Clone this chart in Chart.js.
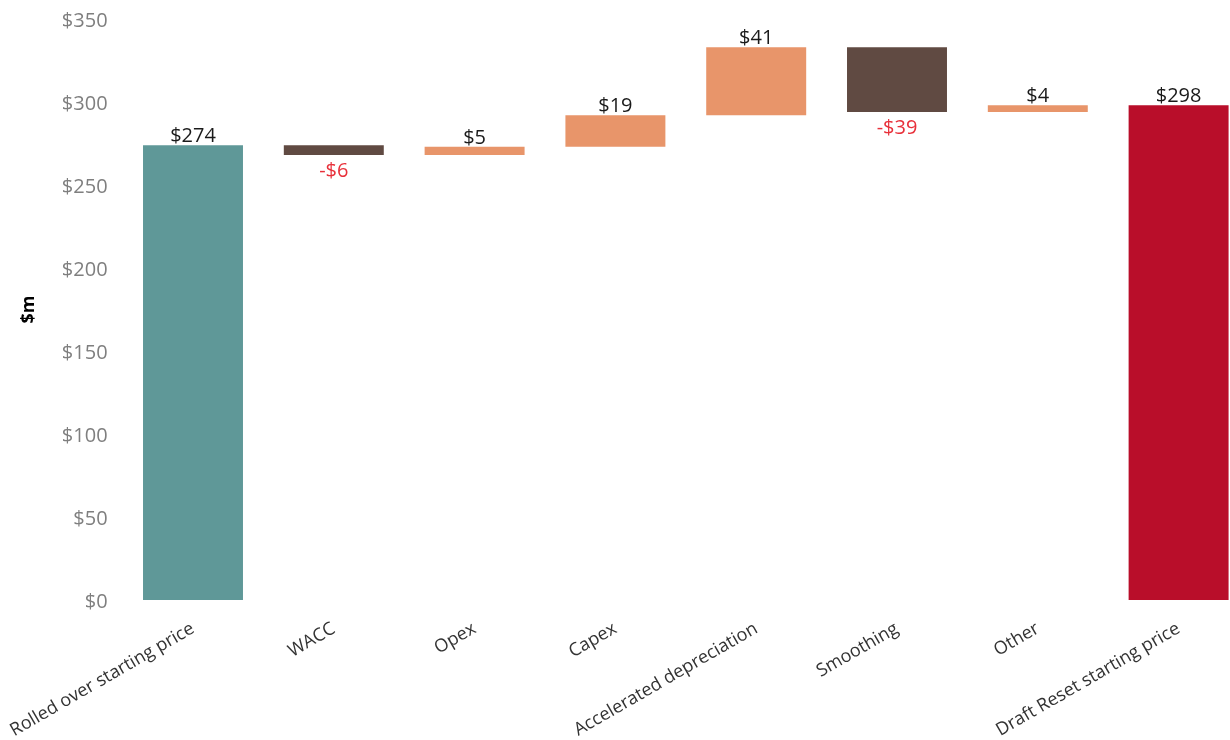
<!DOCTYPE html>
<html>
<head>
<meta charset="utf-8">
<script src="https://cdn.jsdelivr.net/npm/chart.js@4.4.1/dist/chart.umd.min.js"></script>
<style>
  html, body { margin: 0; padding: 0; background: #ffffff; overflow: hidden; }
  #wrap { width: 1249px; height: 740px; }
</style>
</head>
<body>
<div id="wrap"><canvas id="chart" width="1249" height="740"></canvas></div>
<script>
// Price bridge from the rolled-over starting price to the draft reset starting price ($m)
const categories = [
  'Rolled over starting price',
  'WACC',
  'Opex',
  'Capex',
  'Accelerated depreciation',
  'Smoothing',
  'Other',
  'Draft Reset starting price'
];
const startValue = 274;
const changes = [-6, 5, 19, 41, -39, 4];
const endValue = 298;
const yMin = 0;
const yMax = 350;
const yStep = 50;

// Colours
const startColor = '#5f9898';
const endColor = '#b90e2a';
const increaseColor = '#e8956a';
const decreaseColor = '#604a42';
const negativeLabelColor = '#e8303a';

// Floating ranges for each bar of the waterfall
const ranges = [[0, startValue]];
const labelValues = [startValue];
const colors = [startColor];
let running = startValue;
changes.forEach(c => {
  const next = running + c;
  ranges.push([Math.min(running, next), Math.max(running, next)]);
  labelValues.push(c);
  colors.push(c >= 0 ? increaseColor : decreaseColor);
  running = next;
});
ranges.push([0, endValue]);
labelValues.push(endValue);
colors.push(endColor);

const fontFamily = '"Open Sans", "Noto Sans", sans-serif';

// Writes each bar's value above (gains) or below (reductions) the bar
const valueLabels = {
  id: 'valueLabels',
  afterDatasetsDraw(chart) {
    const ctx = chart.ctx;
    const meta = chart.getDatasetMeta(0);
    ctx.save();
    ctx.font = '20px ' + fontFamily;
    ctx.textAlign = 'center';
    ctx.textBaseline = 'alphabetic';
    meta.data.forEach((bar, i) => {
      const v = labelValues[i];
      const top = Math.min(bar.y, bar.base);
      const bottom = Math.max(bar.y, bar.base);
      if (v >= 0) {
        ctx.fillStyle = '#1a1a1a';
        ctx.fillText('$' + v, bar.x, top - 3);
      } else {
        ctx.fillStyle = negativeLabelColor;
        ctx.fillText('-$' + Math.abs(v), bar.x, bottom + 22);
      }
    });
    ctx.restore();
  }
};

new Chart(document.getElementById('chart'), {
  type: 'bar',
  data: {
    labels: categories,
    datasets: [{
      data: ranges,
      backgroundColor: colors,
      borderWidth: 0,
      barPercentage: 0.71,
      categoryPercentage: 1.0
    }]
  },
  options: {
    responsive: false,
    devicePixelRatio: 1,
    animation: false,
    layout: { padding: { top: 19, left: 0, right: 0, bottom: 0 } },
    plugins: {
      legend: { display: false },
      tooltip: { enabled: false }
    },
    scales: {
      x: {
        grid: { display: false, drawTicks: false },
        border: { display: false },
        ticks: {
          minRotation: 30,
          maxRotation: 30,
          autoSkip: false,
          padding: 18,
          color: '#333333',
          font: { family: fontFamily, size: 18 }
        },
        afterFit(scale) {
          scale.height = 140;
          // let the long rotated first label run past the left edge of the axis
          scale.paddingLeft = 0;
          scale.paddingRight = 0;
        }
      },
      y: {
        min: yMin,
        max: yMax,
        grid: { display: false, drawTicks: false },
        border: { display: false },
        ticks: {
          stepSize: yStep,
          padding: 15,
          labelOffset: 2,
          color: '#7f7f7f',
          font: { family: fontFamily, size: 20 },
          callback: v => '$' + v
        },
        title: {
          display: true,
          text: '$m',
          color: '#000000',
          font: { family: fontFamily, size: 18, weight: 'bold' },
          padding: { top: 18, bottom: 0 }
        },
        afterFit(scale) {
          scale.width = 122.6;
          // top spacing comes from the layout padding alone
          scale.paddingTop = 0;
          scale.paddingBottom = 0;
        }
      }
    }
  },
  plugins: [valueLabels]
});
</script>
</body>
</html>
